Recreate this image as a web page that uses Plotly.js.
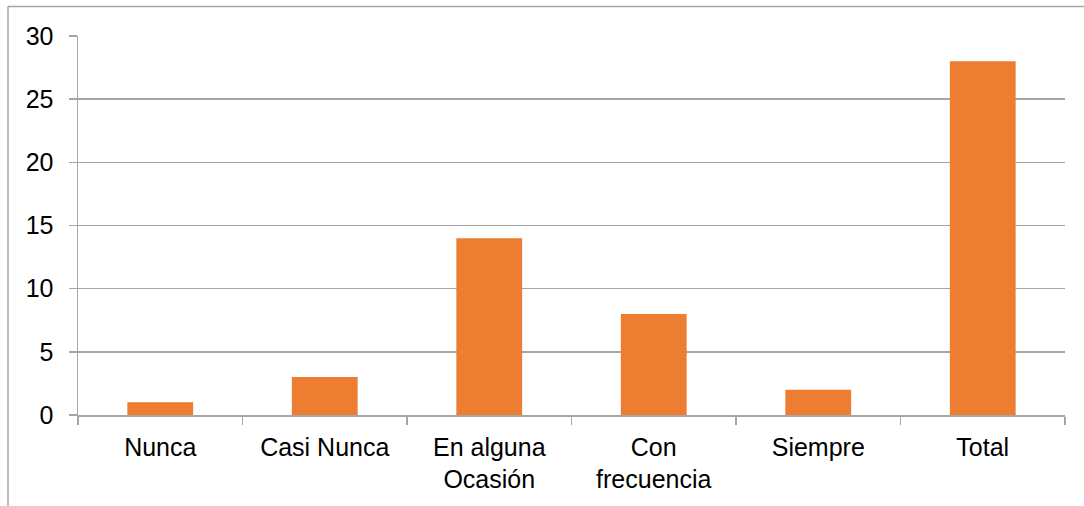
<!DOCTYPE html>
<html>
<head>
<meta charset="utf-8">
<script src="https://cdn.plot.ly/plotly-3.0.1.min.js"></script>
<style>html,body{margin:0;padding:0;background:#fff;}#chart{width:1084px;height:506px;}</style>
</head>
<body>
<div id="chart"></div>
<script>
const categories = ["Nunca", "Casi Nunca", "En alguna<br>Ocasión", "Con<br>frecuencia", "Siempre", "Total"];
const values = [1, 3, 14, 8, 2, 28];
const yTicks = [0, 5, 10, 15, 20, 25, 30];

const trace = {
  type: "bar",
  x: categories,
  y: values,
  marker: {color: "#ED7D31", line: {width: 0}},
  width: 0.4,
  hoverinfo: "x+y"
};

const L = 78, R = 19, T = 36, B = 91, W = 1084, H = 506;
const pw = W - L - R, ph = H - T - B;
const px = v => (v - L) / pw;
const py = v => (H - B - v) / ph;
const FONT = "Liberation Sans, Arial, sans-serif";

const layout = {
  width: W, height: H,
  margin: {l: L, r: R, t: T, b: B, pad: 0},
  paper_bgcolor: "#fff", plot_bgcolor: "#fff",
  font: {family: FONT, size: 25, color: "#000"},
  showlegend: false,
  xaxis: {
    type: "category",
    showgrid: false,
    showline: true, linecolor: "#A6A6A6", linewidth: 1.5,
    ticks: "outside", tickson: "boundaries", ticklen: 8, tickcolor: "#A6A6A6", tickwidth: 1.5,
    tickfont: {size: 25, family: FONT, color: "#000"},
    zeroline: false,
    ticklabelstandoff: 9
  },
  yaxis: {
    range: [0, 30],
    tickvals: yTicks,
    ticktext: yTicks.map(String),
    showgrid: true, gridcolor: "#A6A6A6", gridwidth: 1.5,
    showline: true, linecolor: "#A6A6A6", linewidth: 1.5,
    ticks: "outside", ticklen: 8, tickcolor: "#A6A6A6", tickwidth: 1.5,
    tickfont: {size: 25, family: FONT, color: "#000"},
    zeroline: false,
    ticklabelstandoff: 10
  },
  shapes: [
    {type: "line", xref: "paper", yref: "paper", x0: px(8), x1: px(8), y0: py(6.5), y1: py(520), line: {color: "#A6A6A6", width: 1.5}},
    {type: "line", xref: "paper", yref: "paper", x0: px(8), x1: px(1100), y0: py(6.5), y1: py(6.5), line: {color: "#A6A6A6", width: 1.5}}
  ]
};

Plotly.newPlot("chart", [trace], layout, {displayModeBar: false, staticPlot: true});
</script>
</body>
</html>
